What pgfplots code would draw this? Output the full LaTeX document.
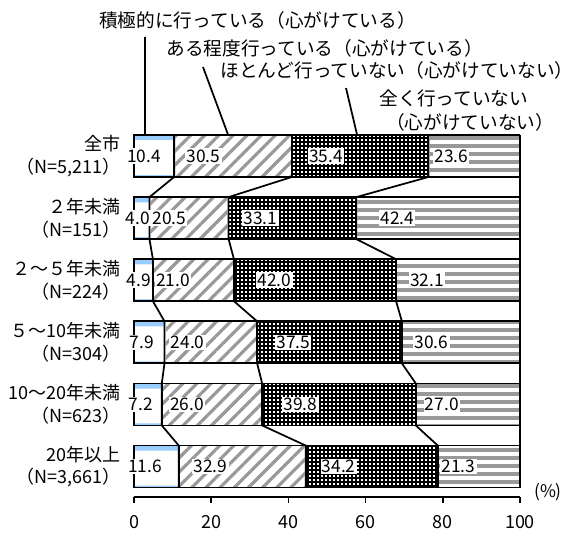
\documentclass[border=0pt]{standalone}
\usepackage{fontspec}
\setmainfont{Noto Sans CJK JP}
\usepackage{pgfplots}
\pgfplotsset{compat=1.18}
\usepackage{pgfplotstable}
\usetikzlibrary{patterns.meta}

\definecolor{lightblue}{HTML}{99CCFF}
\definecolor{stripegray}{HTML}{999999}

% shares per group (idx 5 = top bar)
\pgfplotstableread{
idx a b c d
5 10.4 30.5 35.4 23.6
4 4.0 20.5 33.1 42.4
3 4.9 21.0 42.0 32.1
2 7.9 24.0 37.5 30.6
1 7.2 26.0 39.8 27.0
0 11.6 32.9 34.2 21.3
}\shares

\pgfplotsset{
  base/.style={
    scale only axis, width=289.5pt, height=271.5pt,
    at={(0,0)}, anchor=south west,
    xmin=0, xmax=100, ymin=-0.49, ymax=5.338,
    clip=false,
  },
}

\begin{document}
\begin{tikzpicture}
\useasboundingbox (-100.5pt,-30.75pt) rectangle (330pt,372.75pt);

% underlay: blue bands of the first segment and the joining lines
\begin{axis}[base, hide axis]
\addplot[xbar, bar width=0.676, bar shift=0, fill=lightblue, draw=none] table[x=a,y=idx]{\shares};
\addplot[xbar, bar width=0.56, bar shift=-0.025, fill=white, draw=none] table[x=a,y=idx]{\shares};
\addplot[black, line width=1.3pt] coordinates {
  (10.4,5.338)(10.4,4.662)(4.0,4.338)(4.0,3.662)(4.9,3.338)(4.9,2.662)
  (7.9,2.338)(7.9,1.662)(7.2,1.338)(7.2,0.662)(11.6,0.338)(11.6,-0.338)};
\addplot[black, line width=1.3pt] coordinates {
  (40.9,5.338)(40.9,4.662)(24.5,4.338)(24.5,3.662)(25.9,3.338)(25.9,2.662)
  (31.9,2.338)(31.9,1.662)(33.2,1.338)(33.2,0.662)(44.5,0.338)(44.5,-0.338)};
\addplot[black, line width=1.3pt] coordinates {
  (76.3,5.338)(76.3,4.662)(57.6,4.338)(57.6,3.662)(67.9,3.338)(67.9,2.662)
  (69.4,2.338)(69.4,1.662)(73.0,1.338)(73.0,0.662)(78.7,0.338)(78.7,-0.338)};
\addplot[black, line width=1.3pt] coordinates {(100,5.338)(100,-0.338)};
\end{axis}

\begin{axis}[base,
  xbar stacked, bar width=0.676,
  axis x line*=bottom, axis y line*=left,
  y axis line style={draw=none}, ytick style={draw=none},
  x axis line style={line width=1.3pt},
  xtick={0,20,...,100}, tick align=outside, major tick length=4.5pt,
  xtick style={line width=1.3pt, black},
  xticklabel style={font=\fontsize{13.5}{15}\selectfont, yshift=-6pt},
  ytick={0,...,5},
  yticklabels={{20年以上\\（N=3,661）},{10～20年未満\\（N=623）},{５～10年未満\\（N=304）},
               {２～５年未満\\（N=224）},{２年未満\\（N=151）},{全市\\（N=5,211）}},
  yticklabel style={align=right, font=\fontsize{13.5}{17}\selectfont, xshift=-2pt},
  /pgf/number format/assume math mode=true,
  point meta=explicit,
  nodes near coords={\pgfmathprintnumber[fixed,fixed zerofill,precision=1]{\pgfplotspointmeta}},
  nodes near coords style={anchor=center, fill=white, inner sep=1pt,
    font=\fontsize{13}{15}\selectfont},
  % the shift came out doubled, hence /4 to land at the segment middle
  visualization depends on={rawx/4 \as \halfw},
  every node near coord/.append style={shift={(axis direction cs:-\halfw,0)}},
]
\addplot[fill=none, draw=black, line width=1.3pt] table[x=a,y=idx,meta=a]{\shares};
\addplot[draw=black, line width=1.3pt,
  pattern={Lines[angle=45,distance=7.5pt,line width=2.4pt]}, pattern color=stripegray]
  table[x=b,y=idx,meta=b]{\shares};
\addplot[draw=black, line width=1.3pt,
  pattern={Hatch[angle=0,distance=3pt,line width=1.5pt]}, pattern color=black]
  table[x=c,y=idx,meta=c]{\shares};
\addplot[draw=black, line width=1.3pt,
  pattern={Lines[angle=0,distance=6pt,line width=3pt]}, pattern color=stripegray]
  table[x=d,y=idx,meta=d]{\shares};
\coordinate (L1) at (axis cs:2.85,5.338);
\coordinate (L2) at (axis cs:24.4,5.338);
\coordinate (L3) at (axis cs:57.8,5.338);
\end{axis}

% legend texts with leader lines
\begin{scope}[every node/.style={font=\fontsize{14}{16}\selectfont, inner sep=0pt}]
\node at (92.6pt,357.75pt) {積極的に行っている（心がけている）};
\node at (142.9pt,336.75pt) {ある程度行っている（心がけている）};
\node at (197.25pt,320.25pt) {ほとんど行っていない（心がけていない）};
\node at (240pt,299.25pt) {全く行っていない};
\node at (252pt,281.25pt) {（心がけていない）};
\end{scope}
\draw[line width=1.3pt] (8.25pt,345pt) -- (L1);
\draw[line width=1.3pt] (51.75pt,322.5pt) -- (L2);
\draw[line width=1.3pt] (159pt,306.75pt) -- (L3);
\node[font=\fontsize{13}{14}\selectfont] at (310.5pt,3.75pt) {(\%)};
\end{tikzpicture}
\end{document}
